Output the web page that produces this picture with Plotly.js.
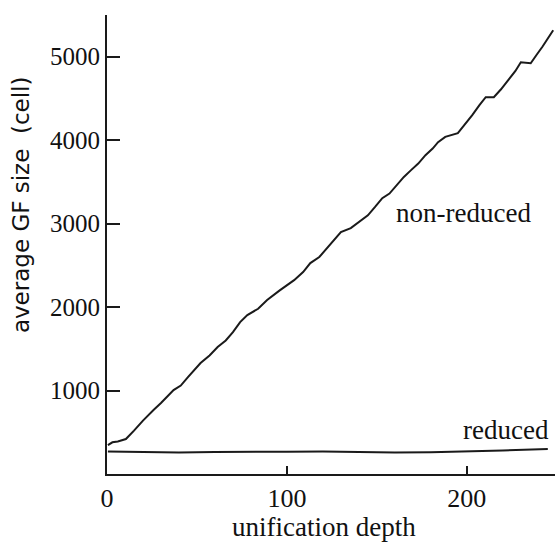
<!DOCTYPE html>
<html><head><meta charset="utf-8">
<script src="https://cdn.plot.ly/plotly-3.0.1.min.js"></script>
<style>html,body{margin:0;padding:0;background:#fff;}</style>
</head><body><div id="chart" style="width:555px;height:545px;"></div>
<script>
const nonReducedX = [0.5, 3, 6, 10.5, 15, 20, 26, 30, 37, 41, 45, 52, 57, 61.5, 66, 70, 74, 78, 84, 89, 96, 104, 109, 113, 118, 122, 126, 130, 135.5, 140, 145, 149, 153, 157, 161, 165, 169, 173, 177, 181, 184, 188, 195, 199, 203, 207, 210.5, 215, 219, 223, 227, 230, 235.5, 239, 242, 248];
const nonReducedY = [347, 380, 390, 419, 520, 640, 770, 850, 1006, 1060, 1160, 1329, 1420, 1521, 1600, 1700, 1820, 1904, 1980, 2084, 2200, 2323, 2420, 2527, 2600, 2700, 2800, 2898, 2946, 3020, 3100, 3200, 3305, 3360, 3460, 3560, 3641, 3720, 3820, 3900, 3976, 4040, 4084, 4190, 4300, 4420, 4515, 4515, 4610, 4720, 4830, 4934, 4922, 5030, 5120, 5317];
const reducedX = [0.5, 20, 40, 60, 80, 100, 120, 140, 160, 180, 200, 220, 245];
const reducedY = [270, 262, 258, 265, 262, 268, 270, 262, 258, 262, 270, 282, 300];
const xTicks = [0, 100, 200];
const yTicks = [1000, 2000, 3000, 4000, 5000];
const seriesLabels = ["non-reduced", "reduced"];
const labelPos = [[198, 3128], [222, 527]];
const xTitle = "unification depth";
const yTitle = "average GF size  (cell)";

const serif = "Liberation Serif, Times New Roman, serif";
const sans = "DejaVu Sans, Liberation Sans, sans-serif";
const ink = "#1a1a1a";
const lineStyle = {color: ink, width: 2};

Plotly.newPlot("chart", [
  {x: nonReducedX, y: nonReducedY, mode: "lines", line: lineStyle, name: seriesLabels[0], showlegend: false},
  {x: reducedX, y: reducedY, mode: "lines", line: lineStyle, name: seriesLabels[1], showlegend: false}
], {
  width: 555, height: 545,
  margin: {l: 107, r: 0, t: 15, b: 71},
  paper_bgcolor: "#fff", plot_bgcolor: "#fff",
  font: {family: serif, size: 26, color: "#111"},
  xaxis: {range: [0, 249], tickvals: xTicks, ticks: "inside", ticklen: 8, tickwidth: 2, tickcolor: ink,
          showline: true, linecolor: ink, linewidth: 2, showgrid: false, zeroline: false,
          tickfont: {size: 26}},
  yaxis: {range: [0, 5500], tickvals: yTicks, ticks: "inside", ticklen: 13, tickwidth: 2, tickcolor: ink,
          showline: true, linecolor: ink, linewidth: 2, showgrid: false, zeroline: false,
          tickfont: {size: 25}},
  annotations: seriesLabels.map((t, i) => ({x: labelPos[i][0], y: labelPos[i][1], text: t, showarrow: false, font: {size: 27}}))
    .concat([
      {xref: "paper", yref: "paper", x: -0.192, y: 0.588, xanchor: "center", yanchor: "middle", text: yTitle,
       textangle: -90, showarrow: false, font: {family: sans, size: 23}},
      {xref: "x", yref: "paper", x: 120.5, y: -0.115, xanchor: "center", yanchor: "middle", text: xTitle,
       showarrow: false, font: {size: 27}}
    ])
}, {staticPlot: true});
</script></body></html>
